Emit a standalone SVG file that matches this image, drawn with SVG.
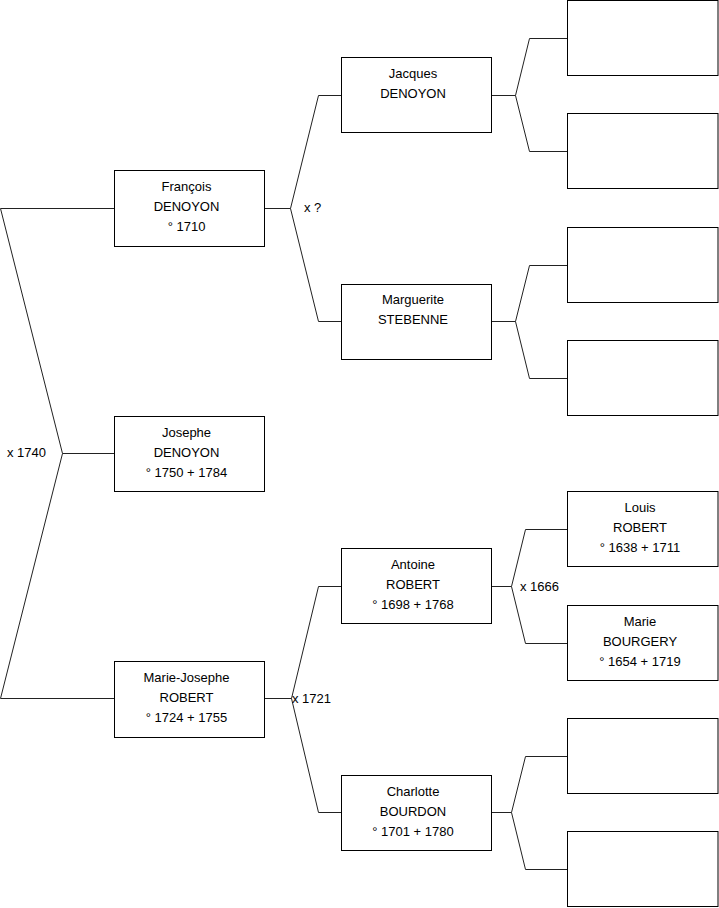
<svg xmlns="http://www.w3.org/2000/svg" width="719" height="908" viewBox="0 0 719 908">
<style>
.box{fill:#fff;stroke:#000;stroke-width:1}
.ln{fill:none;stroke:#222;stroke-width:1}
text{font-family:"Liberation Sans",Arial,sans-serif;font-size:13px;fill:#000}
.c{text-anchor:middle}
</style>
<rect width="719" height="908" fill="#fff"/>
<g id="connectors">
<polyline class="ln" points="114,208.5 0.5,208.5 62.5,453.5 0.5,698.5 114,698.5"/>
<line class="ln" x1="62.5" y1="453.5" x2="114" y2="453.5"/>
<polyline class="ln" points="341,95.5 318.5,95.5 290.5,208.5 318.5,321.5 341,321.5"/>
<line class="ln" x1="265" y1="208.5" x2="290.5" y2="208.5"/>
<polyline class="ln" points="341,586.5 318.5,586.5 291.5,698.5 318.5,812.5 341,812.5"/>
<line class="ln" x1="265" y1="698.5" x2="291.5" y2="698.5"/>
<polyline class="ln" points="567,38.5 529.5,38.5 515.5,95.5 529.5,151.5 567,151.5"/>
<line class="ln" x1="492" y1="95.5" x2="515.5" y2="95.5"/>
<polyline class="ln" points="567,265.5 529.5,265.5 515.5,321.5 529.5,378.5 567,378.5"/>
<line class="ln" x1="492" y1="321.5" x2="515.5" y2="321.5"/>
<polyline class="ln" points="567,529.5 525.5,529.5 511.5,586.5 525.5,643.5 567,643.5"/>
<line class="ln" x1="492" y1="586.5" x2="511.5" y2="586.5"/>
<polyline class="ln" points="567,756.5 525.5,756.5 511.5,812.5 525.5,869.5 567,869.5"/>
<line class="ln" x1="492" y1="812.5" x2="511.5" y2="812.5"/>
<text x="7" y="457">x 1740</text>
<text x="304" y="212">x ?</text>
<text x="292" y="703">x 1721</text>
<text x="520" y="591">x 1666</text>
</g>
<g id="francois"><rect class="box" x="114.5" y="170.5" width="150" height="76"/>
<text class="c" x="186.5" y="191">François</text><text class="c" x="186.5" y="211">DENOYON</text><text class="c" x="186.5" y="231">° 1710</text></g>
<g id="josephe"><rect class="box" x="114.5" y="416.5" width="150" height="75"/>
<text class="c" x="186.5" y="437">Josephe</text><text class="c" x="186.5" y="457">DENOYON</text><text class="c" x="186.5" y="477">° 1750 + 1784</text></g>
<g id="mariejosephe"><rect class="box" x="114.5" y="661.5" width="150" height="76"/>
<text class="c" x="186.5" y="682">Marie-Josephe</text><text class="c" x="186.5" y="702">ROBERT</text><text class="c" x="186.5" y="722">° 1724 + 1755</text></g>
<g id="jacques"><rect class="box" x="341.5" y="57.5" width="150" height="75"/>
<text class="c" x="413" y="78">Jacques</text><text class="c" x="413" y="98">DENOYON</text></g>
<g id="marguerite"><rect class="box" x="341.5" y="284.5" width="150" height="75"/>
<text class="c" x="413" y="304">Marguerite</text><text class="c" x="413" y="324">STEBENNE</text></g>
<g id="antoine"><rect class="box" x="341.5" y="548.5" width="150" height="75"/>
<text class="c" x="413" y="569">Antoine</text><text class="c" x="413" y="589">ROBERT</text><text class="c" x="413" y="609">° 1698 + 1768</text></g>
<g id="charlotte"><rect class="box" x="341.5" y="775.5" width="150" height="75"/>
<text class="c" x="413" y="796">Charlotte</text><text class="c" x="413" y="816">BOURDON</text><text class="c" x="413" y="836">° 1701 + 1780</text></g>
<g id="g3a"><rect class="box" x="567.5" y="0.5" width="150.5" height="75"/></g>
<g id="g3b"><rect class="box" x="567.5" y="113.5" width="150.5" height="75"/></g>
<g id="g3c"><rect class="box" x="567.5" y="227.5" width="150.5" height="75"/></g>
<g id="g3d"><rect class="box" x="567.5" y="340.5" width="150.5" height="75"/></g>
<g id="louis"><rect class="box" x="567.5" y="491.5" width="150.5" height="75"/>
<text class="c" x="640" y="512">Louis</text><text class="c" x="640" y="532">ROBERT</text><text class="c" x="640" y="552">° 1638 + 1711</text></g>
<g id="marie"><rect class="box" x="567.5" y="605.5" width="150.5" height="75"/>
<text class="c" x="640" y="626">Marie</text><text class="c" x="640" y="646">BOURGERY</text><text class="c" x="640" y="666">° 1654 + 1719</text></g>
<g id="g3g"><rect class="box" x="567.5" y="718.5" width="150.5" height="75"/></g>
<g id="g3h"><rect class="box" x="567.5" y="831.5" width="150.5" height="75"/></g>
</svg>
